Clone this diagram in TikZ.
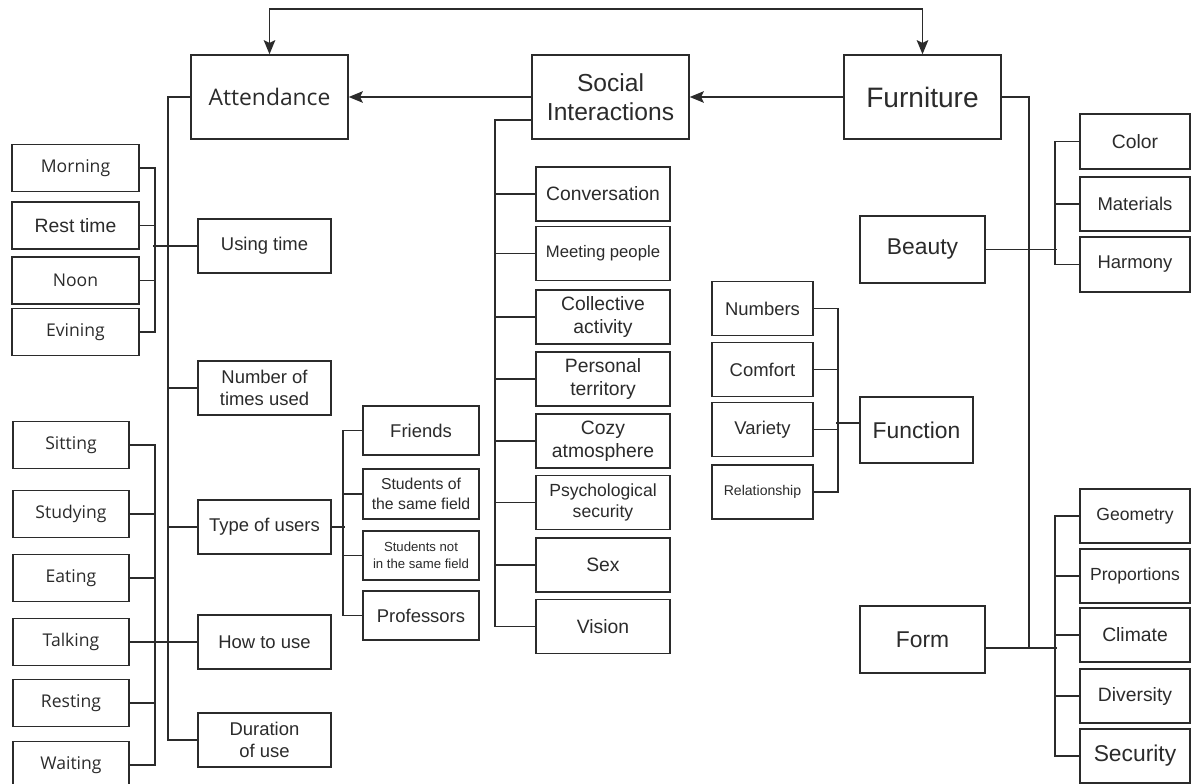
\documentclass[tikz,border=0pt]{standalone}
\usepackage{fontspec}
\setmainfont{Liberation Sans}
\newfontfamily\opensans{Open Sans}
\usetikzlibrary{arrows.meta,calc}
\definecolor{ink}{HTML}{2B2B2B}
\tikzset{
  box/.style={draw=ink, line width=0.8pt, text=ink, align=center, inner sep=0pt},
  sz/.style 2 args={minimum width=#1*0.02cm, minimum height=#2*0.02cm},
  fs/.style 2 args={font=\fontsize{#1}{#2}\selectfont},
  osf/.style 2 args={font=\opensans\fontsize{#1}{#2}\selectfont},
  link/.style={draw=ink, line width=1.1pt},
  tip/.tip={Stealth[length=8pt, width=6.5pt, inset=1.5pt]},
  arr/.style={link, -tip},
}

\begin{document}
\begin{tikzpicture}[x=0.02cm, y=-0.02cm]
  \useasboundingbox[fill=white] (0,0) rectangle (1191,784);

  % main headings
  \node[box, sz={157}{84}, osf={13}{16}] (att) at (269.5,97) {Attendance};
  \node[box, sz={157}{84}, fs={14}{16.5}] (soc) at (610.5,97) {Social\\Interactions};
  \node[box, sz={157}{84}, fs={16}{19}] (fur) at (922.5,97) {Furniture};

  \draw[arr] (soc.west) -- (att.east);
  \draw[arr] (fur.west) -- (soc.east);
  \draw[link, tip-tip] (att.north) -- ++(0,-45) -| (fur.north);

  % attendance
  \node[box, sz={133}{54}, fs={10.5}{12.5}] (ut) at (264.5,246) {Using time};
  \node[box, sz={133}{54}, fs={10.5}{12.5}] (num) at (264.5,388) {Number of\\times used};
  \node[box, sz={133}{54}, fs={10.5}{12.5}] (typ) at (264.5,527) {Type of users};
  \node[box, sz={133}{54}, fs={10.5}{12.5}] (how) at (264.5,642) {How to use};
  \node[box, sz={133}{54}, fs={10.5}{12.5}] (dur) at (264.5,740) {Duration\\of use};

  \draw[link] (att.west) -- ++(-22,0) |- (dur.west);
  \draw[link] (num.west) -- ++(-29,0);
  \draw[link] (typ.west) -- ++(-29,0);

  % times of day
  \node[box, sz={127}{47}, osf={10}{12}] (morn) at (75.5,168) {Morning};
  \node[box, sz={127}{47}, fs={11}{13}] (rest) at (75.5,225.5) {Rest time};
  \node[box, sz={127}{47}, osf={10}{12}] (noon) at (75.5,280.5) {Noon};
  \node[box, sz={127}{47}, osf={10}{12}] (even) at (75.5,332) {Evining};

  \draw[link] (morn.east) -- ++(15,0) |- (even.east);
  \draw[link] (rest.east) -- ++(15,0);
  \draw[link] (noon.east) -- ++(15,0);
  \draw[link] (ut.west) -- ++(-44,0);

  % ways of use
  \node[box, sz={116}{47}, osf={10}{12}] (sit) at (71,445) {Sitting};
  \node[box, sz={116}{47}, osf={10}{12}] (stud) at (71,514) {Studying};
  \node[box, sz={116}{47}, osf={10}{12}] (eat) at (71,578) {Eating};
  \node[box, sz={116}{47}, osf={10}{12}] (talk) at (71,642) {Talking};
  \node[box, sz={116}{47}, osf={10}{12}] (resting) at (71,703) {Resting};
  \node[box, sz={116}{47}, osf={10}{12}] (wait) at (71,765) {Waiting};

  \draw[link] (sit.east) -- ++(25,0) |- (wait.east);
  \draw[link] (stud.east) -- ++(25,0);
  \draw[link] (eat.east) -- ++(25,0);
  \draw[link] (resting.east) -- ++(25,0);
  \draw[link] (talk.east) -- (how.west);

  % users
  \node[box, sz={116}{49}, fs={10.5}{12.5}] (fr) at (421,430.5) {Friends};
  \node[box, sz={116}{50}, fs={9}{11}] (same) at (421,494) {Students of\\the same field};
  \node[box, sz={116}{49}, fs={7.5}{9.5}] (other) at (421,555.5) {Students not\\in the same field};
  \node[box, sz={116}{49}, fs={10.5}{12.5}] (prof) at (421,615.5) {Professors};

  \draw[link] (fr.west) -- ++(-19,0) |- (prof.west);
  \draw[link] (same.west) -- ++(-19,0);
  \draw[link] (other.west) -- ++(-19,0);
  \draw[link] (typ.east) -- ++(13,0);

  % social interactions
  \node[box, sz={134}{54}, fs={11}{13}] (conv) at (603,194) {Conversation};
  \node[box, sz={134}{54}, fs={9.5}{11.5}] (meet) at (603,253.5) {Meeting people};
  \node[box, sz={134}{54}, fs={11}{13}] (coll) at (603,317) {Collective\\activity};
  \node[box, sz={134}{54}, fs={11}{13}] (pers) at (603,379) {Personal\\territory};
  \node[box, sz={134}{54}, fs={11}{13}] (cozy) at (603,441) {Cozy\\atmosphere};
  \node[box, sz={134}{54}, fs={10}{12}] (psy) at (603,502.5) {Psychological\\security};
  \node[box, sz={134}{54}, fs={11}{13}] (sex) at (603,565) {Sex};
  \node[box, sz={134}{54}, fs={11}{13}] (vis) at (603,626.5) {Vision};

  \draw[link] ($(soc.south west)+(0,-20)$) -- ++(-36,0) |- (vis.west);
  \foreach \n in {conv,meet,coll,pers,cozy,psy,sex}
    \draw[link] (\n.west) -- ++(-40,0);

  % function
  \node[box, sz={101}{54}, fs={10.5}{12.5}] (nums) at (762.5,308.5) {Numbers};
  \node[box, sz={101}{54}, fs={10.5}{12.5}] (comf) at (762.5,369.5) {Comfort};
  \node[box, sz={101}{54}, fs={10.5}{12.5}] (var) at (762.5,429.5) {Variety};
  \node[box, sz={101}{54}, fs={8}{10}] (rel) at (762.5,492) {Relationship};
  \node[box, sz={113}{66}, fs={13}{15}] (func) at (916.5,430) {Function};

  \draw[link] (nums.east) -- ++(24,0) |- (rel.east);
  \draw[link] (comf.east) -- ++(24,0);
  \draw[link] (var.east) -- ++(24,0);
  \draw[link] ([yshift=4pt]func.west) -- ++(-23,0);

  % furniture
  \node[box, sz={125}{67}, fs={13}{15}] (beau) at (922.5,249.5) {Beauty};
  \node[box, sz={125}{67}, fs={13}{15}] (form) at (922.5,639.5) {Form};

  \draw[link] (fur.east) -- ++(27,0) |- ([yshift=-5pt]form.east);
  \draw[link] (beau.east) -- ++(71,0);
  \draw[link] ([yshift=-5pt]form.east) -- ++(71,0);

  \node[box, sz={110}{55}, fs={11}{13}] (col) at (1135,141.5) {Color};
  \node[box, sz={110}{54}, fs={10.5}{12.5}] (mat) at (1135,204) {Materials};
  \node[box, sz={110}{55}, fs={10.5}{12.5}] (harm) at (1135,264.5) {Harmony};

  \draw[link] (col.west) -- ++(-24,0) |- (harm.west);
  \draw[link] (mat.west) -- ++(-24,0);

  \node[box, sz={110}{54}, fs={10}{12}] (geo) at (1135,516) {Geometry};
  \node[box, sz={110}{54}, fs={10}{12}] (prop) at (1135,576) {Proportions};
  \node[box, sz={110}{54}, fs={11}{13}] (clim) at (1135,635) {Climate};
  \node[box, sz={110}{54}, fs={11}{13}] (div) at (1135,696) {Diversity};
  \node[box, sz={110}{54}, fs={13}{15}] (sec) at (1135,756) {Security};

  \draw[link] (geo.west) -- ++(-24,0) |- (sec.west);
  \foreach \n in {prop,clim,div}
    \draw[link] (\n.west) -- ++(-24,0);
\end{tikzpicture}
\end{document}
